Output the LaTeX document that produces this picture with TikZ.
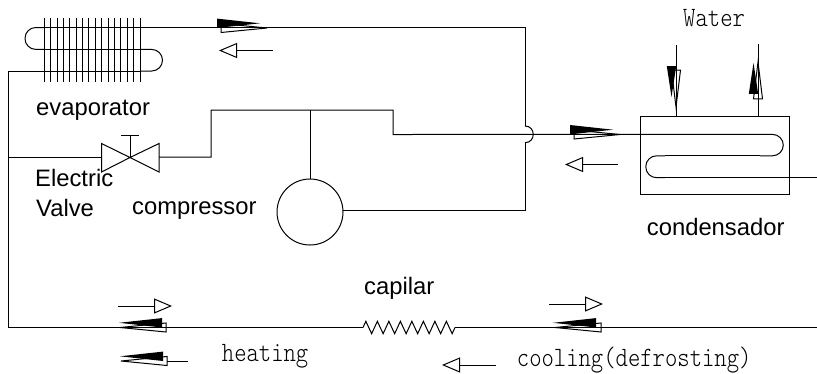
\documentclass[tikz,border=0pt]{standalone}
\usepackage{fontspec}
\setsansfont{Liberation Sans}
\newfontfamily\notefont[FakeStretch=0.84]{Latin Modern Mono Light}
\usetikzlibrary{arrows.meta,decorations.pathmorphing}
\tikzset{
  pipe/.style={line width=1pt},
  ubend/.style={pipe, rounded corners=10.8pt},
  flow/.style={line width=1pt, -{Triangle[open,length=18pt,width=15pt]}},
  parttext/.style={anchor=base west, inner sep=0pt, font=\sffamily\fontsize{23.8}{28}\selectfont},
  notetext/.style={anchor=base west, inner sep=0pt, font=\notefont\fontsize{28}{32}\selectfont},
  pics/blackwedge/.style={code={\fill (0,0) -- (-43,-4.7) -- (-43,4.7) -- cycle;}},
  pics/whitewedge/.style={code={\draw[line width=1pt] (0,0) -- (-46,-4.5) -- (-46,4.5) -- cycle;}}
}
\begin{document}
\begin{tikzpicture}[x=1pt,y=-1pt]
\useasboundingbox (0,0) rectangle (817,373);

\node [draw, pipe, circle, minimum size=66pt, inner sep=0pt, outer sep=0pt] (compressor) at (310,212) {};
\node [draw, pipe, minimum width=149pt, minimum height=77.6pt, inner sep=0pt, outer sep=0pt] (condenser) at (714.5,155.5) {};

\coordinate (v1) at (8,71);
\coordinate (v2) at (8,157);
\coordinate (v3) at (8,327.5);
\coordinate (t1) at (101.5,157);
\coordinate (t2) at (159,157);
\coordinate (t3) at (130,157.5);
\coordinate (t4) at (130,135);
\coordinate (h1) at (211,157);
\coordinate (h2) at (211,110);
\coordinate (h3) at (393,110);
\coordinate (h4) at (393,134.5);
\coordinate (h5) at (310,110);
\coordinate (r1) at (525,27.5);
\coordinate (r2) at (525,126);
\coordinate (r3) at (525,142.7);
\coordinate (r4) at (525,210);
\coordinate (s1) at (363,327.5);
\coordinate (s2) at (455,327.5);
\coordinate (e1) at (817,327.5);
\coordinate (e2) at (817,177.7);
\coordinate (w1) at (676,45);
\coordinate (w2) at (758,44);

% evaporator
\foreach \i in {0,...,15}
  \draw [pipe] (44.3+6.38*\i,18) -- (44.3+6.38*\i,82);
\draw [ubend] (44,27.5) -- (25,27.5) -- (25,49.4) -- (44,49.4);
\draw [ubend] (140,49.4) -- (162.5,49.4) -- (162.5,71) -- (140,71);
\draw [pipe] (44,49.4) -- (140,49.4);
\draw [pipe] (44,27.5) -- (r1) -- (r2);
\draw [pipe] (140,71) -- (v1) -- (v3) -- (s1);

% valve
\draw [pipe] (v2) -- (t1);
\draw [pipe] (101.5,143.5) -- (t3) -- (101.5,172) -- cycle;
\draw [pipe] (159,143.5) -- (t3) -- (159,172) -- cycle;
\draw [pipe] (t3) -- (t4);
\draw [pipe] (121,135) -- (139,135);
\draw [pipe] (t2) -- (h1) -- (h2) -- (h3) -- (h4) -- (760,134.4);
\draw [pipe] (h5) -- (compressor.north);

% bridge
\draw [pipe] (r2) .. controls (536,126) and (536,142.7) .. (r3);
\draw [pipe] (r3) -- (r4) -- (compressor.east |- r4);

% condenser coil
\draw [ubend] (760,134.4) -- (783.3,134.4) -- (783.3,155.8) -- (760,155.8);
\draw [pipe] (760,155.8) -- (665,155.8);
\draw [ubend] (665,155.8) -- (645.8,155.8) -- (645.8,177.7) -- (665,177.7);
\draw [pipe] (665,177.7) -- (e2);
\draw [pipe] (w1) -- (w1 |- condenser.north);
\draw [pipe] (w2) -- (w2 |- condenser.north);

% capilar
\draw [pipe, decorate, decoration={zigzag, amplitude=6.2pt, segment length=11.5pt}] (s1) -- (s2);
\draw [pipe] (s2) -- (e1);

% open arrows
\coordinate (a1) at (273,50.5);
\coordinate (a2) at (219,50.5);
\coordinate (a3) at (617.5,164.5);
\coordinate (a4) at (565,164.5);
\coordinate (a5) at (118,306);
\coordinate (a6) at (172,306);
\coordinate (a7) at (549,304);
\coordinate (a8) at (603,304);
\coordinate (a9) at (495.5,365);
\coordinate (a10) at (442,365);
\coordinate (a11) at (188,361);
\coordinate (a12) at (167,361);
\draw [flow] (a1) -- (a2);
\draw [flow] (a3) -- (a4);
\draw [flow] (a5) -- (a6);
\draw [flow] (a7) -- (a8);
\draw [flow] (a9) -- (a10);
\draw [pipe] (a11) -- (a12);

% double arrows
\pic at (267,28) {whitewedge};
\pic at (260,23.3) {blackwedge};
\pic at (620,134.5) {whitewedge};
\pic at (613,129.7) {blackwedge};
\pic [rotate=-90, xscale=0.8] at (676,107) {whitewedge};
\pic [rotate=-90, xscale=0.72] at (671.5,97) {blackwedge};
\pic [rotate=90, xscale=0.8] at (758,62) {whitewedge};
\pic [rotate=90, xscale=0.72] at (753.5,63) {blackwedge};
\pic [xscale=-1] at (120,327.5) {whitewedge};
\pic [xscale=-1] at (119,322.8) {blackwedge};
\pic [xscale=-1] at (121,361) {whitewedge};
\pic [xscale=-1] at (120,356.3) {blackwedge};
\pic [xscale=-1] at (555,327.5) {whitewedge};
\pic [xscale=-1] at (553,322.8) {blackwedge};

\node [parttext] (evaporatortext) at (36,115) {evaporator};
\node [parttext] (electrictext) at (35,186.7) {Electric};
\node [parttext] (valvetext) at (36,216.7) {Valve};
\node [parttext] (compressortext) at (132,214) {compressor};
\node [parttext] (condensertext) at (646.7,235) {condensador};
\node [parttext] (capilartext) at (364,294) {capilar};
\node [notetext] (watertext) at (683,26.7) {Water};
\node [notetext] (heatingtext) at (221.7,361.7) {heating};
\node [notetext] (coolingtext) at (516.7,366.7) {cooling(defrosting)};
\end{tikzpicture}
\end{document}
